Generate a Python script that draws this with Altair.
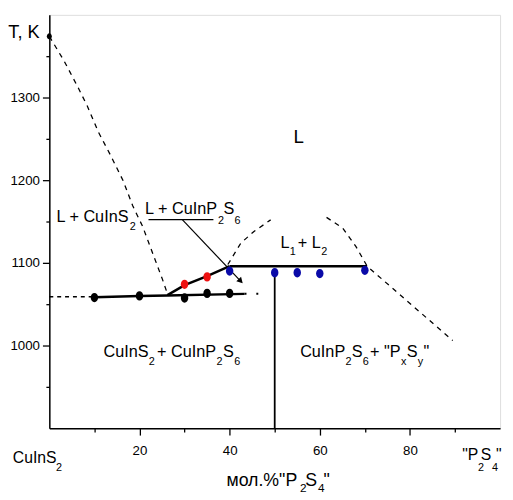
import altair as alt
import pandas as pd

# ---------------- data ----------------
# liquidus of CuInS2 (dashed)
liq1_x = [0, 3.3, 6.2, 8.4, 10.9, 13.5, 16.4, 18.5, 20.7, 22.9, 25.1, 26.3]
liq1_y = [1374, 1344, 1314, 1290, 1258, 1231, 1199, 1169, 1144, 1112, 1080, 1061]
# liquidus of CuInP2S6 up to the peritectic (solid)
liq2_x = [26.2, 30, 35, 40]
liq2_y = [1061, 1073, 1084, 1096]
# monotectic horizontal (solid)
mono_x = [40, 70.5]
mono_y = [1096, 1096]
# eutectic horizontal (solid, dashed left end, dotted right end)
eut_x = [10, 20, 26.2, 43.3]
eut_y = [1058.5, 1060, 1060.5, 1062.5]
eut_left_x = [0, 10]
eut_left_y = [1059, 1059]
eut_right_x = [43.3, 48.5]
eut_right_y = [1062.5, 1062.5]
# CuInP2S6 compound vertical
comp_x = [50, 50]
comp_y = [900, 1091]
# miscibility dome (dashed)
dome_left_x = [39.6, 42.5, 45.4, 49.1]
dome_left_y = [1098, 1124, 1138, 1152]
dome_right_x = [61.5, 65.1, 68, 70.5, 78.5, 89.5]
dome_right_y = [1155, 1142, 1120, 1096, 1058, 1006]
# leader of "L + CuInP2S6"
under_x = [22.0, 36.4]
under_y = [1152.2, 1152.2]
leader_x = [29.5, 42.6]
leader_y = [1152.2, 1077.0]
arrow_x = [42.45]
arrow_y = [1077.9]

# measured points
black_x = [10, 20, 30, 35, 40]
black_y = [1058, 1060, 1057.5, 1063, 1063]
red_x = [30, 35]
red_y = [1074, 1083]
blue_x = [40, 50, 55, 60, 70]
blue_y = [1090, 1088, 1088, 1087, 1091]
melt_x = [0]
melt_y = [1374]

# ticks
x_major = [20, 40, 60, 80]
x_minor = [10, 30, 50, 70, 90]
y_major = [1000, 1100, 1200, 1300]
y_minor = [950, 1050, 1150, 1250, 1350]

# text pieces (text, x, y) in data units
region_main = [
    ("L + CuInS", 1.59, 1149.3),
    ("L + CuInP", 21.23, 1159.3), ("S", 38.62, 1159.3),
    ("L", 51.28, 1117.5), ("+ L", 55.10, 1117.5),
    ("CuInS", 12.0, 985.7), ("+ CuInP", 23.89, 985.7), ("S", 38.51, 985.7),
    ("CuInP", 55.64, 985.7), ("S", 67.10, 985.7), ('+ "P', 71.13, 985.7),
    ("S", 79.27, 985.7), ('"', 83.02, 985.7),
]
region_sub = [
    ("2", 17.83, 1139.5),
    ("2", 37.42, 1147.4), ("6", 41.09, 1147.4),
    ("1", 53.35, 1109.7), ("2", 60.33, 1109.7),
    ("2", 22.04, 976.2), ("2", 37.09, 976.2), ("6", 41.02, 976.2),
    ("2", 65.68, 976.2), ("6", 69.54, 976.2),
    ("x", 78.01, 976.2), ("y", 81.71, 976.2),
]
big_l = [("L", 54.18, 1244.5)]
end_main = [("CuInS", -8.1, 858.0), ('"P', 91.6, 862.1), ("S", 95.7, 862.1), ('"', 99.1, 862.1)]
end_sub = [("2", 1.5, 848.2), ("2", 95.1, 848.2), ("4", 98.2, 848.2)]
title_main = [('мол.%"P', 39.3, 830.3), ("S", 56.8, 830.3), ('"', 60.8, 830.3)]
title_sub = [("2", 55.6, 822.5), ("4", 59.6, 822.5)]
ytitle = [("T, K", -9.1, 1372.5)]

FONT = "Liberation Sans, Arial, sans-serif"

xscale = alt.Scale(domain=[0, 100], nice=False, zero=False)
yscale = alt.Scale(domain=[900, 1400], nice=False, zero=False)

xaxis = alt.Axis(
    values=sorted(x_major + x_minor),
    labelExpr="datum.value % 20 === 0 ? datum.label : ''",
    tickSize={"condition": {"test": "datum.value % 20 === 0", "value": 7}, "value": 4},
    grid=False, domainColor="black", domainWidth=1.5, tickColor="black", tickWidth=1.3,
    labelFont=FONT, labelFontSize=13.5, labelColor="black", labelPadding=9,
    labelFlush=False, labelOverlap=False, title=None,
)
yaxis = alt.Axis(
    values=sorted(y_major + y_minor),
    labelExpr="datum.value % 100 === 0 ? datum.label : ''",
    tickSize={"condition": {"test": "datum.value % 100 === 0", "value": 7}, "value": 3.5},
    grid=False, domainColor="black", domainWidth=1.5, tickColor="black", tickWidth=1.3,
    labelFont=FONT, labelFontSize=13.5, labelColor="black", labelPadding=3,
    labelFlush=False, labelOverlap=False, title=None, format="d",
)


def enc(chart):
    return chart.encode(
        x=alt.X("x:Q", scale=xscale, axis=xaxis),
        y=alt.Y("y:Q", scale=yscale, axis=yaxis),
    )


def line(xs, ys, **kw):
    df = pd.DataFrame({"x": xs, "y": ys, "o": list(range(len(xs)))})
    return enc(alt.Chart(df).mark_line(color="black", **kw)).encode(order="o:Q")


def points(xs, ys, color, size):
    df = pd.DataFrame({"x": xs, "y": ys})
    ell = "M -0.8 0 A 0.8 1 0 1 0 0.8 0 A 0.8 1 0 1 0 -0.8 0 Z"
    return enc(alt.Chart(df).mark_point(shape=ell, filled=True, size=size, color=color,
                                        opacity=1, strokeWidth=0))


def texts(pieces, size):
    df = pd.DataFrame(pieces, columns=["t", "x", "y"])
    return enc(alt.Chart(df).mark_text(align="left", baseline="alphabetic", fontSize=size,
                                       font=FONT, color="black")).encode(text="t:N")


DASH = [5, 5]
layers = [
    line(liq1_x, liq1_y, strokeWidth=1.3, strokeDash=DASH),
    line(dome_left_x, dome_left_y, strokeWidth=1.3, strokeDash=DASH),
    line(dome_right_x, dome_right_y, strokeWidth=1.3, strokeDash=DASH),
    line(eut_left_x, eut_left_y, strokeWidth=1.3, strokeDash=[4, 4]),
    line(eut_right_x, eut_right_y, strokeWidth=2, strokeDash=[2, 10]),
    line(eut_x, eut_y, strokeWidth=2.5),
    line(liq2_x, liq2_y, strokeWidth=2.5),
    line(mono_x, mono_y, strokeWidth=2.5),
    line(comp_x, comp_y, strokeWidth=1.8),
    line(under_x, under_y, strokeWidth=1.2),
    line(leader_x, leader_y, strokeWidth=1.2),
    enc(alt.Chart(pd.DataFrame({"x": arrow_x, "y": arrow_y})).mark_point(
        shape="triangle-up", filled=True, size=45, angle=136, color="black", opacity=1, strokeWidth=0)),
    points(black_x, black_y, "black", 90),
    points(red_x, red_y, "#ee1111", 90),
    points(blue_x, blue_y, "#0a0aa8", 90),
    points(melt_x, melt_y, "black", 40),
    texts(region_main, 16.5),
    texts(region_sub, 11),
    texts(big_l, 19),
    texts(end_main, 16),
    texts(end_sub, 11),
    texts(title_main, 18),
    texts(title_sub, 12),
    texts(ytitle, 18.5),
]

chart = alt.layer(*layers).properties(
    width=458, height=420,
    autosize=alt.AutoSizeParams(type="none"),
    padding={"left": 42, "top": 3, "right": 5, "bottom": 69},
).configure_view(stroke=None).configure(background="white")

chart.save("out.html", embed_options={"renderer": "svg", "actions": False})
